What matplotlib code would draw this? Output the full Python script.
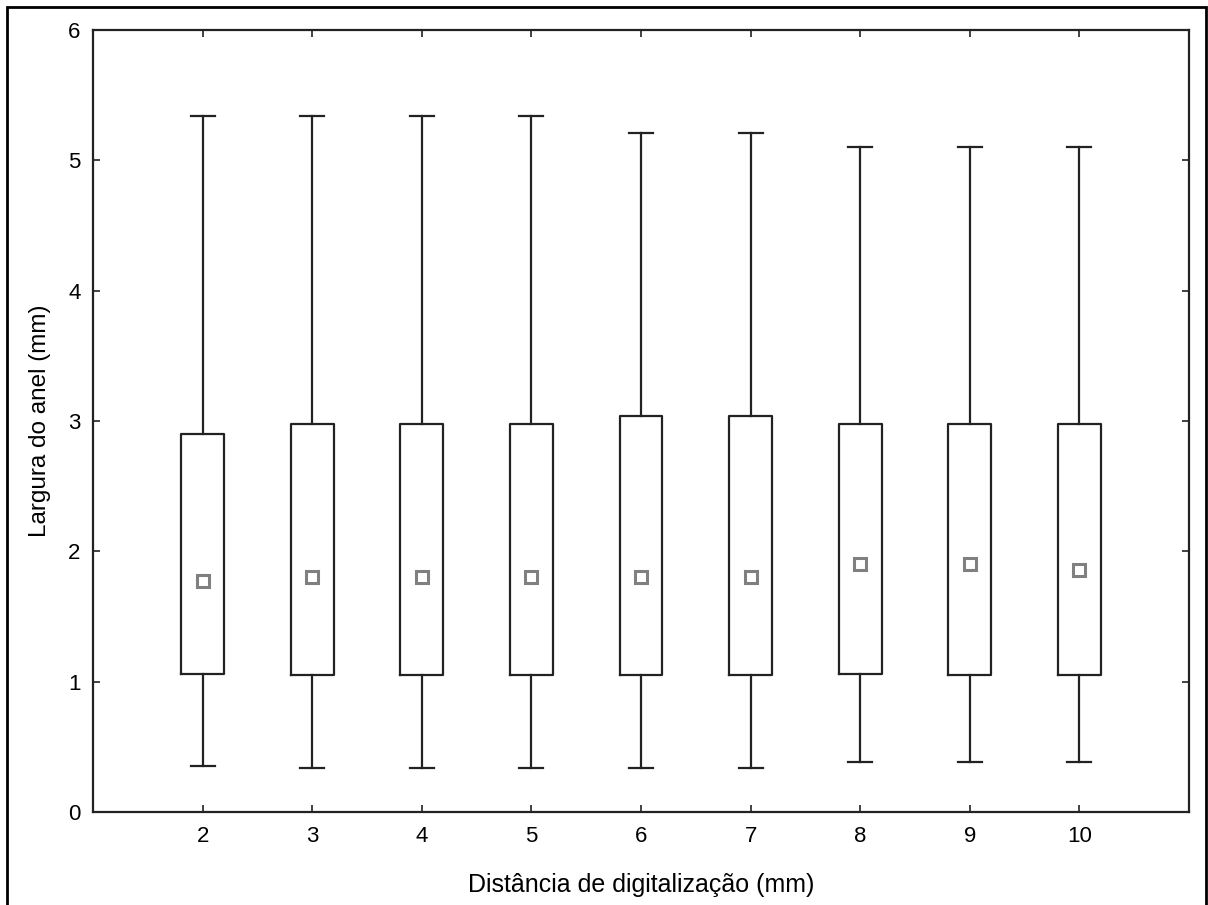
import matplotlib.pyplot as plt
from matplotlib.patches import Rectangle

plt.rcParams['font.family'] = ['Liberation Sans', 'DejaVu Sans']

# distancia de digitalizacao (mm)
dist = [2, 3, 4, 5, 6, 7, 8, 9, 10]
# estatisticas
w_max = [5.34, 5.34, 5.34, 5.34, 5.21, 5.21, 5.10, 5.10, 5.10]
q3 = [2.90, 2.98, 2.98, 2.98, 3.04, 3.04, 2.98, 2.98, 2.98]
med = [1.77, 1.80, 1.80, 1.80, 1.80, 1.80, 1.90, 1.90, 1.86]
q1 = [1.06, 1.05, 1.05, 1.05, 1.05, 1.05, 1.06, 1.05, 1.05]
w_min = [0.35, 0.34, 0.34, 0.34, 0.34, 0.34, 0.38, 0.38, 0.38]

stats = []
for i in range(len(dist)):
    stats.append({'whislo': w_min[i], 'q1': q1[i], 'med': med[i],
                  'q3': q3[i], 'whishi': w_max[i], 'fliers': []})

fig = plt.figure(figsize=(12.08, 9.05), dpi=100)
ax = fig.add_axes([93/1208, 1 - 812/905, (1189-93)/1208, (812-30)/905])

lw = 1.6
ax.bxp(stats, positions=dist, widths=0.39, showcaps=True, showfliers=False,
       boxprops=dict(color='#222222', linewidth=lw),
       whiskerprops=dict(color='#222222', linewidth=lw),
       capprops=dict(color='#222222', linewidth=lw),
       medianprops=dict(linewidth=0), capwidths=0.22)
ax.plot(dist, med, ls='none', marker='s', ms=8, mfc='white', mec='#808080', mew=2.2)

ax.set_xlim(1, 11)
ax.set_ylim(0, 6)
ax.set_xticks(dist)
ax.set_xticklabels([str(d) for d in dist])
ax.set_yticks(range(0, 7))
ax.tick_params(direction='in', length=5, width=1.2, top=True, right=True,
               labelsize=16, pad=10, color='#222222')
ax.tick_params(axis='y', pad=9)
for s in ax.spines.values():
    s.set_linewidth(1.6)
    s.set_color('#222222')

ax.set_xlabel('Distância de digitalização (mm)', fontsize=18, labelpad=19)
ax.set_ylabel('Largura do anel (mm)', fontsize=17.5, labelpad=12)

fig.patches.append(Rectangle((7/1208, -0.05), (1206-7)/1208, 1.05 - 7/905,
                             transform=fig.transFigure, fill=False,
                             edgecolor='black', linewidth=2))

fig.savefig('out.png', dpi=100)
